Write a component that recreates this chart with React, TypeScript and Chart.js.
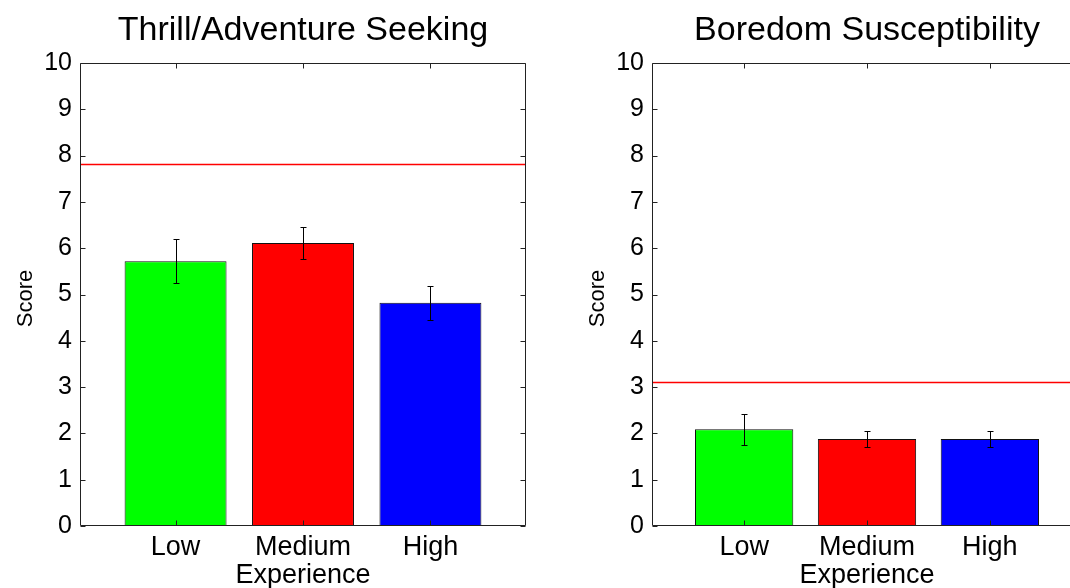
import { useEffect, useRef } from 'react';
import { Chart, registerables } from 'chart.js';

Chart.register(...registerables);

// Experience groups and their bar fills
const categories = ['Low', 'Medium', 'High'];
const barColors = ['#00ff00', '#ff0000', '#0000ff'];
const scoreTicks = [0, 1, 2, 3, 4, 5, 6, 7, 8, 9, 10];

// Thrill/Adventure Seeking: group means, standard errors, population norm
const thrillMeans = [5.72, 6.11, 4.82];
const thrillErrors = [0.47, 0.35, 0.37];
const thrillNorm = 7.81;

// Boredom Susceptibility: group means, standard errors, population norm
const boredomMeans = [2.09, 1.88, 1.88];
const boredomErrors = [0.33, 0.17, 0.17];
const boredomNorm = 3.1;

const FONT = '"Liberation Sans", Arial, Helvetica, sans-serif';
const HEIGHT = 588;
const AREA_TOP = 63;
const AREA_BOTTOM = 526;

type PanelProps = {
  title: string;
  means: number[];
  errors: number[];
  norm: number;
  left: number;
  width: number;
  areaLeft: number;
  areaRight: number;
};

// Draws the axes box, inward ticks, error bars and the text labels
function makeFramePlugin(title: string, means: number[], errors: number[]) {
  return {
    id: 'matlabFrame',
    afterDatasetsDraw(chart: Chart) {
      const { ctx, chartArea: a } = chart;
      const x = chart.scales.x;
      const y = chart.scales.y;
      ctx.save();

      // error bars
      ctx.strokeStyle = '#000';
      ctx.lineWidth = 1;
      means.forEach((m, i) => {
        const px = Math.round(x.getPixelForValue(i + 1)) + 0.5;
        const top = Math.round(y.getPixelForValue(m + errors[i])) + 0.5;
        const bot = Math.round(y.getPixelForValue(m - errors[i])) + 0.5;
        ctx.beginPath();
        ctx.moveTo(px, top);
        ctx.lineTo(px, bot);
        ctx.moveTo(px - 3, top);
        ctx.lineTo(px + 3, top);
        ctx.moveTo(px - 3, bot);
        ctx.lineTo(px + 3, bot);
        ctx.stroke();
      });

      // axes box
      const L = Math.round(a.left) + 0.5;
      const R = Math.round(a.right) - 0.5;
      const T = Math.round(a.top) + 0.5;
      const B = Math.round(a.bottom) - 0.5;
      ctx.strokeStyle = '#222';
      ctx.beginPath();
      ctx.rect(L, T, R - L, B - T);
      ctx.stroke();

      // inward ticks
      const tl = 5;
      ctx.beginPath();
      scoreTicks.forEach((v) => {
        const py = Math.round(y.getPixelForValue(v)) + 0.5;
        ctx.moveTo(L, py);
        ctx.lineTo(L + tl, py);
        ctx.moveTo(R, py);
        ctx.lineTo(R - tl, py);
      });
      categories.forEach((_, i) => {
        const px = Math.round(x.getPixelForValue(i + 1)) + 0.5;
        ctx.moveTo(px, T);
        ctx.lineTo(px, T + tl);
        ctx.moveTo(px, B);
        ctx.lineTo(px, B - tl);
      });
      ctx.stroke();

      // texts
      const cx = (a.left + a.right) / 2;
      ctx.fillStyle = '#000';
      ctx.textAlign = 'center';
      ctx.textBaseline = 'alphabetic';
      ctx.font = `34px ${FONT}`;
      ctx.fillText(title, cx, 40);

      ctx.font = `27px ${FONT}`;
      ctx.fillText('Experience', cx, 583);

      ctx.save();
      ctx.translate(a.left - 48, (a.top + a.bottom) / 2 + 4);
      ctx.rotate(-Math.PI / 2);
      ctx.font = `22px ${FONT}`;
      ctx.fillText('Score', 0, 0);
      ctx.restore();

      ctx.restore();
    },
  };
}

function Panel({ title, means, errors, norm, left, width, areaLeft, areaRight }: PanelProps) {
  const ref = useRef<HTMLCanvasElement>(null);

  useEffect(() => {
    const canvas = ref.current;
    if (!canvas) return;
    const chart = new Chart(canvas, {
      type: 'bar',
      data: {
        datasets: [
          {
            type: 'line',
            data: [
              { x: 0.25, y: norm },
              { x: 3.75, y: norm },
            ],
            borderColor: '#ff0000',
            borderWidth: 1.5,
            pointRadius: 0,
            order: 0,
          } as any,
          {
            type: 'bar',
            data: means.map((m, i) => ({ x: i + 1, y: m })),
            backgroundColor: barColors,
            borderColor: '#111',
            borderWidth: 1,
            barPercentage: 0.8,
            categoryPercentage: 1,
            order: 1,
          } as any,
        ],
      },
      options: {
        responsive: false,
        animation: false,
        layout: { padding: { top: AREA_TOP, right: width - areaRight, left: 0, bottom: 0 } },
        plugins: {
          legend: { display: false },
          tooltip: { enabled: false },
          title: { display: false },
        },
        scales: {
          x: {
            type: 'linear',
            min: 0.25,
            max: 3.75,
            offset: false,
            grid: { display: false, drawTicks: false },
            border: { display: false },
            afterBuildTicks: (s: any) => {
              s.ticks = categories.map((_, i) => ({ value: i + 1 }));
            },
            afterFit: (s: any) => {
              s.height = HEIGHT - AREA_BOTTOM;
            },
            ticks: {
              callback: (v: any) => categories[Math.round(Number(v)) - 1] ?? '',
              font: { family: FONT, size: 27 },
              color: '#000',
              padding: 5,
              maxRotation: 0,
              autoSkip: false,
            },
          },
          y: {
            type: 'linear',
            min: 0,
            max: 10,
            grid: { display: false, drawTicks: false },
            border: { display: false },
            afterBuildTicks: (s: any) => {
              s.ticks = scoreTicks.map((v) => ({ value: v }));
            },
            afterFit: (s: any) => {
              s.width = areaLeft;
            },
            ticks: {
              font: { family: FONT, size: 25 },
              color: '#000',
              padding: 8,
            },
          },
        },
      } as any,
      plugins: [makeFramePlugin(title, means, errors)],
    });
    return () => chart.destroy();
  }, [title, means, errors, norm, width, areaLeft, areaRight]);

  return (
    <canvas
      ref={ref}
      width={width}
      height={HEIGHT}
      style={{ position: 'absolute', left, top: 0, width, height: HEIGHT }}
    />
  );
}

export default function App() {
  return (
    <div
      style={{
        position: 'fixed',
        left: 0,
        top: 0,
        width: 1070,
        height: HEIGHT,
        overflow: 'hidden',
        background: '#fff',
      }}
    >
      <Panel
        title="Thrill/Adventure Seeking"
        means={thrillMeans}
        errors={thrillErrors}
        norm={thrillNorm}
        left={0}
        width={560}
        areaLeft={80}
        areaRight={526}
      />
      <Panel
        title="Boredom Susceptibility"
        means={boredomMeans}
        errors={boredomErrors}
        norm={boredomNorm}
        left={560}
        width={540}
        areaLeft={92}
        areaRight={522}
      />
    </div>
  );
}
